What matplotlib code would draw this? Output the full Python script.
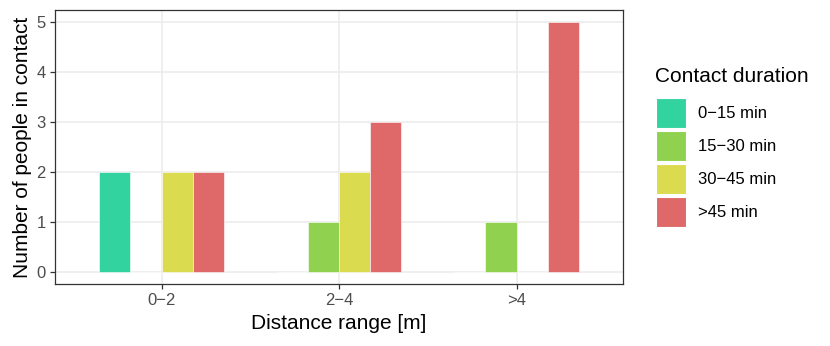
import matplotlib
matplotlib.use("Agg")
import matplotlib.pyplot as plt
from matplotlib.patches import Rectangle
import numpy as np

plt.rcParams['font.family'] = ['Liberation Sans', 'DejaVu Sans']

distance = ["0−2", "2−4", ">4"]
durations = ["0−15 min", "15−30 min", "30−45 min", ">45 min"]
counts = {
    "0−15 min": [2, 0, 0],
    "15−30 min": [0, 1, 1],
    "30−45 min": [2, 2, 0],
    ">45 min": [2, 3, 5],
}
colors = ["#33D3A0", "#90D150", "#DBDB50", "#DF6868"]

W, H = 830, 346
fig = plt.figure(figsize=(W / 100, H / 100), dpi=100)
ax = fig.add_axes([55 / W, 1 - 284 / H, (623 - 55) / W, (284 - 10) / H])

x = np.arange(1, len(distance) + 1)
total = 0.7
bw = total / len(durations)
for i, (d, c) in enumerate(zip(durations, colors)):
    off = -total / 2 + bw * (i + 0.5)
    ax.bar(x + off, counts[d], width=bw, color=c, edgecolor="white",
           linewidth=0.4, zorder=3)

ax.set_xlim(0.4, 3.6)
ax.set_ylim(-0.25, 5.25)
ax.set_xticks(x)
ax.set_xticklabels(distance)
ax.set_yticks(range(0, 6))
ax.grid(True, color="#EBEBEB", linewidth=1.1, zorder=0)
ax.set_axisbelow(True)
for s in ax.spines.values():
    s.set_color("#333333")
    s.set_linewidth(0.9)
ax.tick_params(colors="#333333", labelcolor="#4D4D4D", labelsize=12,
               length=3.5, width=0.9, pad=3)
ax.set_xlabel("Distance range [m]", fontsize=15, labelpad=4.5)
ax.set_ylabel("Number of people in contact", fontsize=15, labelpad=3)

# legend
fig.text(655 / W, 1 - 76.5 / H, "Contact duration", fontsize=15,
         va="center", ha="left")
ky = 97.5
for d, c in zip(durations, colors):
    fig.add_artist(Rectangle((655.5 / W, 1 - (ky + 30.5) / H), 30.5 / W, 30.5 / H,
                             transform=fig.transFigure, facecolor=c,
                             edgecolor="white", linewidth=0.8))
    fig.text(698 / W, 1 - (ky + 15.5) / H, d, fontsize=12, va="center",
             ha="left")
    ky += 33.1

fig.savefig("out.png", dpi=100)
